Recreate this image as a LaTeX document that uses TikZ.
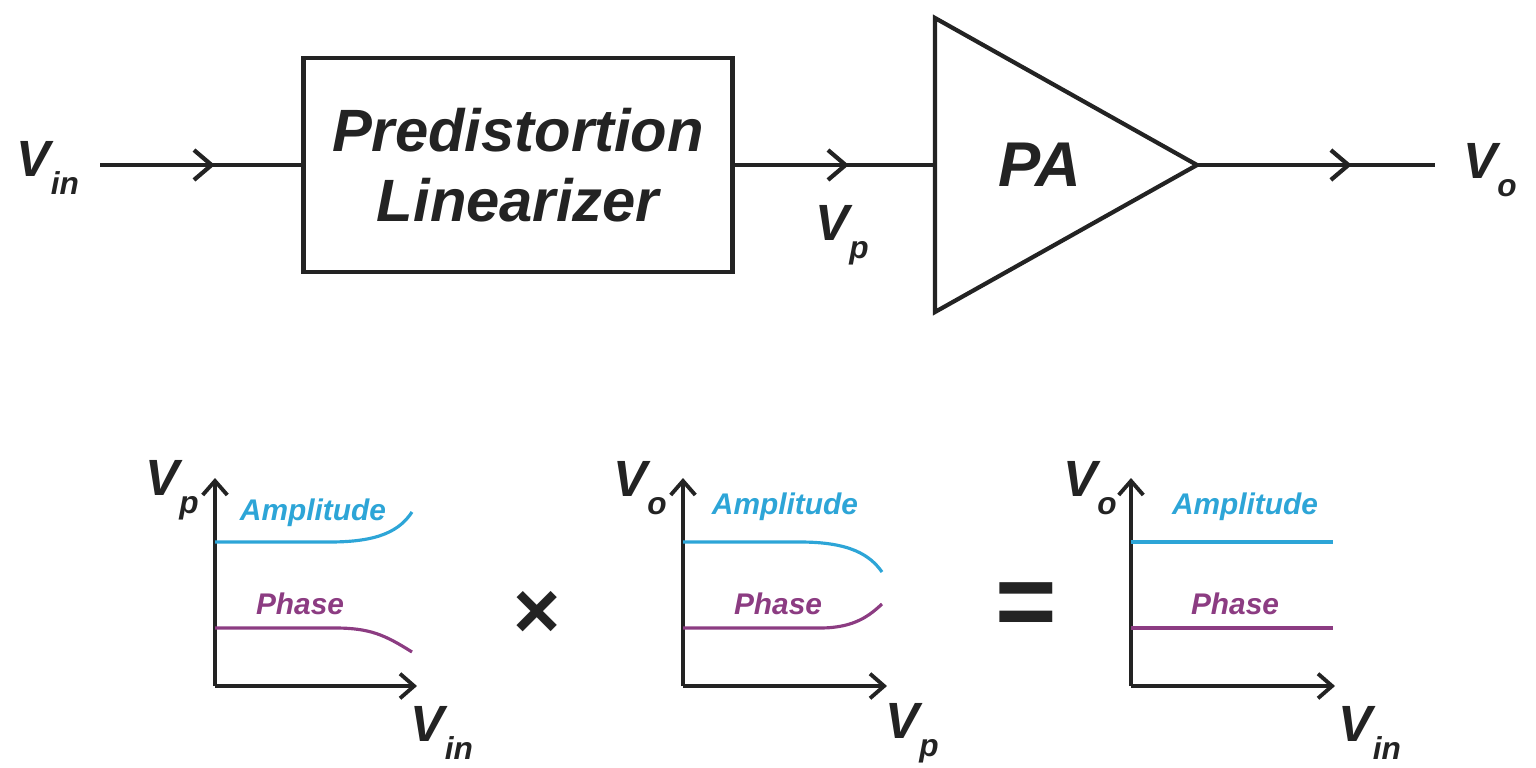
\documentclass[tikz,border=0pt]{standalone}
\usepackage{fontspec}
\setmainfont{Liberation Sans}
\usetikzlibrary{arrows.meta,decorations.markings}
\definecolor{ink}{RGB}{35,35,35}
\definecolor{ampblue}{RGB}{45,165,215}
\definecolor{phasepurple}{RGB}{140,60,130}
\tikzset{
  wire/.style={ink, line width=2.4pt},
  midarrow/.style={decoration={markings, mark=at position #1 with {\arrow{Straight Barb[length=10pt,width=17pt,line width=2.4pt]}}}, postaction={decorate}},
  axis/.style={ink, line width=2.2pt, -{Straight Barb[length=8pt,width=14pt]}},
  sig/.style={font=\fontsize{29}{30}\selectfont\bfseries\itshape, ink},
  big/.style={font=\fontsize{34}{38}\selectfont\bfseries\itshape, ink},
  curvelbl/.style={font=\fontsize{17}{18}\selectfont\bfseries\itshape},
  amp/.style={ampblue, line width=1.8pt},
  phs/.style={phasepurple, line width=1.8pt}
}
\begin{document}
\begin{tikzpicture}[x=0.02cm, y=-0.02cm]
  \useasboundingbox (0,0) rectangle (1536,768);

  % Top chain
  \node[sig] (vin) at (48,168) {V\raisebox{-0.35em}{\fontsize{18}{18}\selectfont in}};
  \node[draw=ink, line width=2.4pt, minimum width=8.58cm, minimum height=4.28cm,
        big, align=center] (pdl) at (518,165) {Predistortion\\[2pt]Linearizer};
  \coordinate (pain) at (935,165);
  \coordinate (pout) at (1197,165);
  \draw[wire, line join=miter] (935,18) -- (pout) -- (935,312) -- cycle;
  \node[font=\fontsize{36}{36}\selectfont\bfseries\itshape, ink] (pa) at (1040,165) {PA};
  \coordinate (vinend) at (100,165);
  \coordinate (voend) at (1435,165);
  \draw[wire, midarrow=0.57] (vinend) -- (pdl.west);
  \draw[wire, midarrow=0.57] (pdl.east) -- (pain);
  \draw[wire, midarrow=0.65] (pout) -- (voend);
  \node[sig] (vp) at (842,235) {V\raisebox{-0.35em}{\fontsize{18}{18}\selectfont p}};
  \node[sig] (vo) at (1490,170) {V\raisebox{-0.35em}{\fontsize{18}{18}\selectfont o}};

  % Graph 1: predistorter
  \coordinate (oA) at (215,686);
  \draw[axis] (oA) -- (215,478);
  \draw[axis] (oA) -- (417,686);
  \node[sig] (yA) at (172,490) {V\raisebox{-0.35em}{\fontsize{18}{18}\selectfont p}};
  \node[sig] (xA) at (442,733) {V\raisebox{-0.35em}{\fontsize{18}{18}\selectfont in}};
  \draw[amp] (215,542) -- (330,542) .. controls (380,542) and (400,530) .. (412,512);
  \draw[phs] (215,628) -- (335,628) .. controls (370,628) and (385,635) .. (412,652);
  \node[curvelbl, ampblue] (ampA) at (313,513) {Amplitude};
  \node[curvelbl, phasepurple] (phsA) at (300,604) {Phase};

  \node[font=\fontsize{46}{46}\selectfont\bfseries, ink] (times) at (537,615) {×};

  % Graph 2: PA
  \coordinate (oB) at (683,686);
  \draw[axis] (oB) -- (683,478);
  \draw[axis] (oB) -- (887,686);
  \node[sig] (yB) at (640,488) {V\raisebox{-0.35em}{\fontsize{18}{18}\selectfont o}};
  \node[sig] (xB) at (912,733) {V\raisebox{-0.35em}{\fontsize{18}{18}\selectfont p}};
  \draw[amp] (683,542) -- (800,542) .. controls (850,542) and (870,555) .. (882,572);
  \draw[phs] (683,628) -- (820,628) .. controls (855,628) and (870,615) .. (882,604);
  \node[curvelbl, ampblue] (ampB) at (785,507) {Amplitude};
  \node[curvelbl, phasepurple] (phsB) at (778,604) {Phase};

  \node[font=\fontsize{60}{60}\selectfont\bfseries, ink] (equals) at (1026,610) {=};

  % Graph 3: linearized
  \coordinate (oC) at (1131,686);
  \draw[axis] (oC) -- (1131,478);
  \draw[axis] (oC) -- (1335,686);
  \node[sig] (yC) at (1090,488) {V\raisebox{-0.35em}{\fontsize{18}{18}\selectfont o}};
  \node[sig] (xC) at (1370,733) {V\raisebox{-0.35em}{\fontsize{18}{18}\selectfont in}};
  \draw[amp] (1131,542) -- (1333,542);
  \draw[phs] (1131,628) -- (1333,628);
  \node[curvelbl, ampblue] (ampC) at (1245,507) {Amplitude};
  \node[curvelbl, phasepurple] (phsC) at (1235,604) {Phase};
\end{tikzpicture}
\end{document}
